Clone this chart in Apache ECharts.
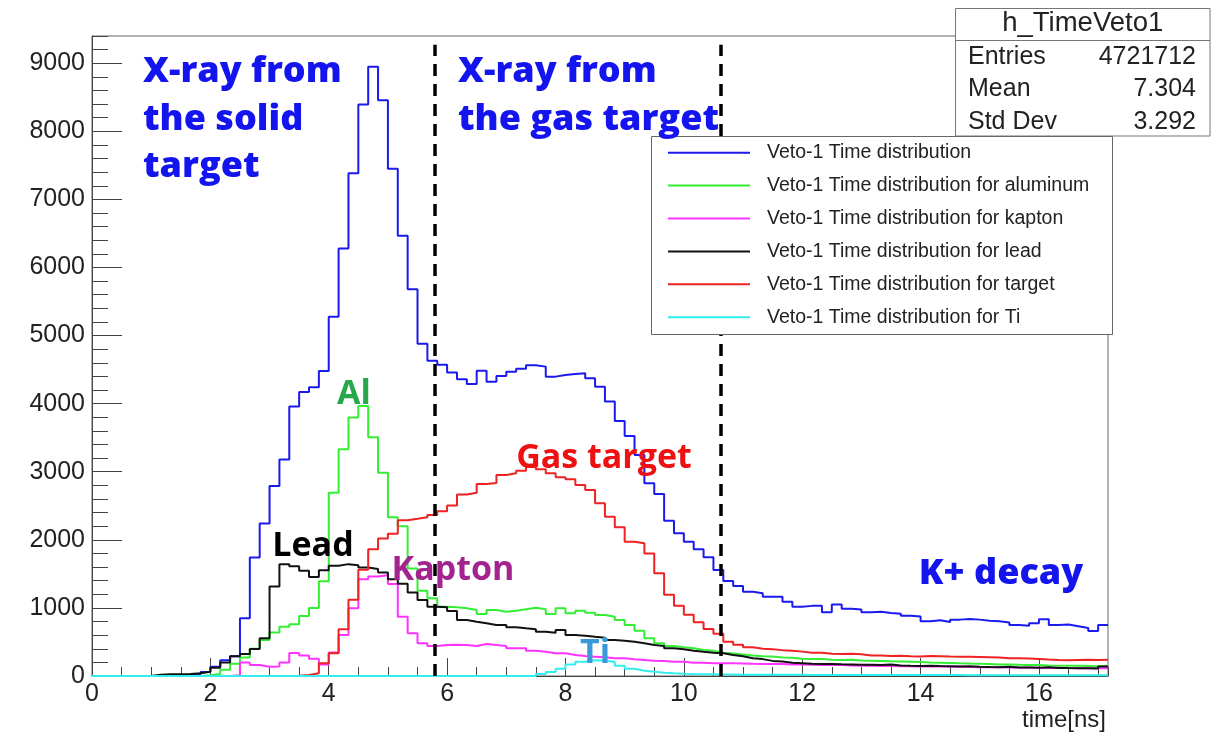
<!DOCTYPE html>
<html>
<head>
<meta charset="utf-8">
<title>h_TimeVeto1</title>
<script src="https://cdn.jsdelivr.net/npm/echarts@6/dist/echarts.min.js"></script>
<style>
  html, body { margin: 0; padding: 0; background: #fff; }
  #chart { width: 1217px; height: 736px; }
</style>
</head>
<body>
<div id="chart"></div>
<script>
// Histogram binning: 103 bins of 1/6 ns starting at 0 ns
const BIN_WIDTH = 1 / 6;
const N_BINS = 103;

// Bin contents (counts per bin), bin k covers [k/6, (k+1)/6) ns
const vetoAll = [
  0, 0, 0, 0, 0, 0, 5, 10, 12, 18,
  30, 60, 135, 230, 290, 850, 1740, 2240, 2790, 3180,
  3960, 4170, 4240, 4480, 5275, 6280, 7385, 8395, 8950, 8455,
  7450, 6465, 5680, 4880, 4630, 4570, 4458, 4360, 4290, 4485,
  4323, 4407, 4470, 4514, 4564, 4544, 4397, 4422, 4436, 4446,
  4373, 4250, 4030, 3746, 3526, 3247, 2831, 2674, 2281, 2096,
  1973, 1861, 1744, 1557, 1395, 1322, 1238, 1215, 1165, 1165,
  1092, 1018, 1030, 1030, 936, 1050, 987, 975, 938, 945,
  925, 915, 884, 875, 805, 818, 793, 828, 838, 828,
  813, 805, 786, 750, 737, 774, 833, 750, 755, 730,
  705, 661, 749
];
const vetoAluminum = [
  0, 0, 0, 0, 0, 0, 0, 0, 0, 0,
  0, 10, 30, 90, 180, 270, 400, 530, 640, 725,
  760, 880, 1000, 1390, 2690, 3330, 3795, 3966, 3506, 2987,
  2330, 2200, 1580, 1253, 1141, 1018, 1010, 994, 970, 911,
  970, 945, 960, 980, 1004, 980, 911, 994, 921, 960,
  930, 896, 871, 823, 749, 666, 553, 480, 441, 421,
  407, 382, 372, 343, 330, 315, 300, 290, 285, 270,
  268, 255, 250, 248, 240, 236, 240, 228, 225, 222,
  215, 214, 210, 206, 200, 196, 192, 186, 182, 180,
  176, 170, 170, 165, 161, 160, 155, 152, 152, 150,
  148, 145, 147
];
const vetoKapton = [
  0, 0, 0, 0, 0, 0, 0, 0, 0, 0,
  0, 0, 0, 0, 10, 200, 160, 135, 140, 200,
  338, 300, 252, 170, 345, 602, 994, 1420, 1460, 1480,
  1350, 870, 627, 480, 441, 455, 460, 455, 441, 470,
  455, 441, 407, 407, 372, 357, 333, 333, 308, 294,
  284, 274, 260, 260, 245, 235, 225, 220, 210, 210,
  196, 196, 186, 186, 186, 184, 180, 178, 176, 176,
  170, 168, 165, 162, 162, 160, 155, 150, 152, 148,
  147, 145, 143, 140, 140, 138, 135, 140, 132, 130,
  128, 127, 125, 122, 125, 120, 118, 120, 116, 115,
  113, 112, 115
];
const vetoLead = [
  0, 0, 0, 0, 0, 0, 20, 25, 25, 30,
  40, 63, 120, 200, 290, 323, 395, 553, 1315, 1643,
  1613, 1547, 1455, 1552, 1618, 1643, 1625, 1595, 1570, 1520,
  1420, 1355, 1225, 1116, 1018, 1009, 955, 823, 798, 774,
  749, 749, 715, 700, 686, 651, 636, 676, 602, 592,
  577, 563, 529, 519, 504, 480, 455, 441, 407, 392,
  372, 357, 343, 333, 310, 290, 262, 248, 222, 212,
  196, 188, 180, 178, 176, 172, 170, 166, 164, 160,
  168, 155, 150, 148, 150, 146, 144, 140, 145, 136,
  132, 130, 135, 126, 125, 122, 127, 119, 116, 114,
  112, 110, 140
];
const vetoTarget = [
  0, 0, 0, 0, 0, 0, 0, 0, 0, 0,
  0, 0, 0, 0, 0, 0, 0, 0, 0, 0,
  5, 15, 40, 186, 333, 686, 1120, 1560, 1861, 2020,
  2090, 2287, 2308, 2331, 2365, 2420, 2505, 2665, 2693, 2820,
  2835, 2953, 2977, 3016, 3075, 3036, 2977, 2919, 2889, 2806,
  2732, 2537, 2340, 2184, 1973, 1949, 1800, 1509, 1195, 1030,
  900, 790, 690, 620, 504, 460, 421, 400, 392, 380,
  372, 358, 343, 343, 328, 323, 325, 318, 300, 302,
  294, 296, 290, 288, 294, 290, 286, 284, 282, 278,
  274, 270, 262, 260, 256, 250, 242, 236, 232, 236,
  238, 234, 240
];
const vetoTi = [
  0, 0, 0, 0, 0, 0, 0, 0, 0, 0,
  0, 0, 0, 0, 0, 0, 0, 0, 0, 0,
  0, 0, 0, 0, 0, 0, 0, 0, 0, 0,
  0, 0, 0, 0, 0, 0, 0, 0, 0, 0,
  0, 0, 0, 0, 0, 30, 60, 105, 170, 210,
  230, 228, 205, 150, 105, 78, 62, 49, 40, 34,
  29, 26, 24, 22, 22, 20, 20, 19, 18, 18,
  17, 17, 16, 16, 16, 15, 15, 15, 14, 15,
  14, 14, 14, 13, 14, 13, 13, 13, 12, 13,
  12, 12, 12, 12, 11, 12, 11, 11, 11, 11,
  10, 11, 10
];

const seriesNames = [
  'Veto-1 Time distribution',
  'Veto-1 Time distribution for aluminum',
  'Veto-1 Time distribution for kapton',
  'Veto-1 Time distribution for lead',
  'Veto-1 Time distribution for target',
  'Veto-1 Time distribution for Ti'
];
const seriesColors = ['#1a1aee', '#33ee33', '#ff33ff', '#111111', '#ee2222', '#33eeee'];
const seriesData = [vetoAll, vetoAluminum, vetoKapton, vetoLead, vetoTarget, vetoTi];

// Region boundaries (ns) drawn as dashed verticals
const regionBounds = [5.79, 10.63];

// Axis ranges and ticks
const X_MAX = N_BINS * BIN_WIDTH;
const Y_MAX = 9400;
const X_MAJOR = 2, X_MINOR = 0.5;
const Y_MAJOR = 1000, Y_MINOR = 200;

// Stats box content
const statsTitle = 'h_TimeVeto1';
const statsRows = [['Entries', '4721712'], ['Mean', '7.304'], ['Std Dev', '3.292']];

// Turn bin contents into step-outline points at bin left edges plus the final right edge
function histPoints(values) {
  const pts = values.map((v, k) => [k * BIN_WIDTH, v]);
  pts.push([values.length * BIN_WIDTH, values[values.length - 1]]);
  return pts;
}

const GRID = { left: 92, top: 36, right: 1217 - 1108, bottom: 736 - 676 };
const AXIS_FONT = '"Liberation Sans", Arial, sans-serif';
const NOTE_FONT = '"Open Sans", Lato, sans-serif';

const series = seriesData.map((vals, i) => ({
  name: seriesNames[i],
  type: 'line',
  step: 'end',
  showSymbol: false,
  symbol: 'none',
  animation: false,
  silent: true,
  data: histPoints(vals),
  lineStyle: { color: seriesColors[i], width: 2 },
  itemStyle: { color: seriesColors[i] },
  z: 2 + i * 0.01
}));

series[0].markLine = {
  silent: true,
  symbol: ['none', 'none'],
  animation: false,
  label: { show: false },
  lineStyle: { color: '#000', width: 3.5, type: [12, 8] },
  data: regionBounds.map(x => [{ coord: [x, 0] }, { coord: [x, 9270] }])
};

// Annotation labels (y is the vertical centre of the first text line)
const notes = [
  { text: 'X-ray from\nthe solid\ntarget', x: 143, y: 72.1, color: '#1414ee', size: 36, weight: 800, align: 'left', lh: 47.5 },
  { text: 'X-ray from\nthe gas target', x: 458, y: 72.1, color: '#1414ee', size: 36, weight: 800, align: 'left', lh: 47.5 },
  { text: 'K+ decay', x: 1001, y: 574.1, color: '#1414ee', size: 36, weight: 800, align: 'center' },
  { text: 'Gas target', x: 604, y: 458.5, color: '#ee1111', size: 34, weight: 700, align: 'center' },
  { text: 'Lead', x: 313, y: 546.5, color: '#000000', size: 34, weight: 700, align: 'center' },
  { text: 'Kapton', x: 453, y: 570.5, color: '#a3238f', size: 34, weight: 700, align: 'center' },
  { text: 'Al', x: 354, y: 394.2, color: '#27a84c', size: 34, weight: 700, align: 'center' },
  { text: 'Ti', x: 595, y: 653.5, color: '#3a9ad9', size: 34, weight: 700, align: 'center' }
];

const graphics = [];
notes.forEach(n => {
  const lh = n.lh || n.size;
  graphics.push({
    type: 'text', z: 30, silent: true,
    style: {
      text: n.text, x: n.x, y: n.y - lh / 2, fill: n.color,
      font: n.weight + ' ' + n.size + 'px ' + NOTE_FONT,
      align: n.align, verticalAlign: 'top',
      lineHeight: lh
    }
  });
});

// Stats box
const SB = { x: 955.5, y: 8.5, w: 254.5, h: 127.5, sep: 40.5 };
graphics.push({ type: 'rect', z: 20, silent: true,
  shape: { x: SB.x, y: SB.y, width: SB.w, height: SB.h },
  style: { fill: '#fff', stroke: '#777', lineWidth: 1 } });
graphics.push({ type: 'line', z: 21, silent: true,
  shape: { x1: SB.x, y1: SB.sep, x2: SB.x + SB.w, y2: SB.sep },
  style: { stroke: '#777', lineWidth: 1 } });
graphics.push({ type: 'text', z: 22, silent: true,
  style: { text: statsTitle, x: SB.x + SB.w / 2, y: 23.5, fill: '#222',
    font: '27.5px ' + AXIS_FONT, align: 'center', verticalAlign: 'middle' } });
statsRows.forEach((r, i) => {
  const yy = 57.3 + i * 32.2;
  graphics.push({ type: 'text', z: 22, silent: true,
    style: { text: r[0], x: 968, y: yy, fill: '#222', font: '25px ' + AXIS_FONT, align: 'left', verticalAlign: 'middle' } });
  graphics.push({ type: 'text', z: 22, silent: true,
    style: { text: r[1], x: 1196, y: yy, fill: '#222', font: '25px ' + AXIS_FONT, align: 'right', verticalAlign: 'middle' } });
});

// Legend box background
graphics.push({ type: 'rect', z: 20, silent: true,
  shape: { x: 651.5, y: 136.5, width: 461, height: 198 },
  style: { fill: '#fff', stroke: '#666', lineWidth: 1 } });

// X axis title
graphics.push({ type: 'text', z: 22, silent: true,
  style: { text: 'time[ns]', x: 1106, y: 720.5, fill: '#222', font: '24px ' + AXIS_FONT,
    align: 'right', verticalAlign: 'middle' } });

const chart = echarts.init(document.getElementById('chart'), null, { renderer: 'canvas' });
chart.setOption({
  animation: false,
  backgroundColor: '#fff',
  grid: Object.assign({ show: true, borderColor: '#666', borderWidth: 1, backgroundColor: 'transparent' }, GRID),
  legend: {
    show: true, z: 40,
    orient: 'vertical', left: 668, top: 142.7, padding: 0,
    itemGap: 12.9, itemWidth: 82, itemHeight: 2, icon: 'rect',
    data: seriesNames,
    selectedMode: false,
    textStyle: { fontFamily: AXIS_FONT, fontSize: 19.5, color: '#222', lineHeight: 20, padding: [0, 0, 0, 12] }
  },
  xAxis: [
    {
      type: 'value', min: 0, max: X_MAX, interval: X_MAJOR,
      axisLine: { show: true, lineStyle: { color: '#444', width: 1 } },
      axisTick: { show: true, inside: true, length: 18, lineStyle: { color: '#444' } },
      axisLabel: { fontFamily: AXIS_FONT, fontSize: 25, color: '#222', margin: 6, showMaxLabel: false,
        formatter: v => String(v) },
      splitLine: { show: false }
    },
    {
      type: 'value', position: 'bottom', min: 0, max: X_MAX, interval: X_MINOR,
      axisLine: { show: false },
      axisTick: { show: true, inside: true, length: 9, lineStyle: { color: '#444' } },
      axisLabel: { show: false },
      splitLine: { show: false }
    }
  ],
  yAxis: [
    {
      type: 'value', min: 0, max: Y_MAX, interval: Y_MAJOR,
      axisLine: { show: true, lineStyle: { color: '#444', width: 1 } },
      axisTick: { show: true, inside: true, length: 30, lineStyle: { color: '#444' } },
      axisLabel: { fontFamily: AXIS_FONT, fontSize: 25, color: '#222', margin: 7, showMaxLabel: false,
        formatter: v => String(v) },
      splitLine: { show: false }
    },
    {
      type: 'value', position: 'left', min: 0, max: Y_MAX, interval: Y_MINOR,
      axisLine: { show: false },
      axisTick: { show: true, inside: true, length: 16, lineStyle: { color: '#444' } },
      axisLabel: { show: false },
      splitLine: { show: false }
    }
  ],
  series: series,
  graphic: { elements: graphics }
});
</script>
</body>
</html>
